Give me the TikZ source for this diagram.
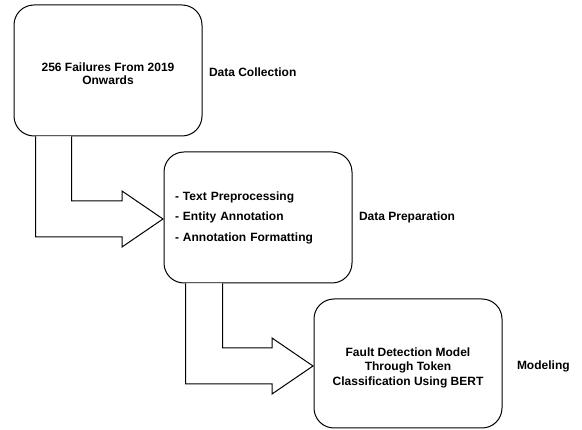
\documentclass[tikz,border=0pt]{standalone}
\usepackage{fontspec}
\setmainfont{Liberation Sans}
\usetikzlibrary{positioning,calc}

\begin{document}
\begin{tikzpicture}[x=1pt,y=-1pt,line width=1pt]
            \tikzset{
                stage/.style={
                    draw,
                    rounded corners=20pt,
                    minimum width=188pt,
                    minimum height=131pt,
                    inner sep=11pt,
                    align=center,
                    font=\bfseries\fontsize{12}{13.5}\selectfont
                },
                phase/.style={
                    inner sep=0pt,
                    font=\bfseries\fontsize{12}{14}\selectfont
                },
                bentarrow/.style={
                    draw,
                    fill=white,
                    line join=miter
                }
            }

            \useasboundingbox (0,0) rectangle (582,430);

            % Stages
            \node[stage] (collect) at (108,70.5)
                {\rule{0pt}{15pt}256 Failures From 2019\\Onwards};
            \node[stage,text width=166pt,align=left,
                font=\bfseries\fontsize{12}{20.5}\selectfont] (prep) at (258,217.5)
                {- Text Preprocessing\\- Entity Annotation\\- Annotation Formatting};
            \node[stage,minimum height=129pt,
                font=\bfseries\fontsize{12}{14.5}\selectfont] (model) at (408,363.5)
                {\rule{0pt}{17pt}Fault Detection Model\\Through Token\\Classification Using BERT};

            % Phase labels
            \node[phase,right=6pt of collect,yshift=-1.5pt] (collect_lbl) {Data Collection};
            \node[phase,right=6pt of prep] (prep_lbl) {Data Preparation};
            \node[phase,right=14pt of model,yshift=-3pt] (model_lbl) {Modeling};

            % Arrow tips
            \coordinate (tipA) at ($(prep.west)+(-0.5,1.5)$);
            \coordinate (tipB) at ($(model.west)+(-0.5,2.5)$);

            % Collection -> Preparation
            \draw[bentarrow]
                ($(collect.south west)+(22,0)$) |- ($(tipA)+(-41,18)$)
                -- ++(0,10) -- (tipA) -- ++(-41,-28) -- ++(0,10)
                -| ($(collect.south west)+(58,0)$);

            % Preparation -> Modeling
            \draw[bentarrow]
                ($(prep.south west)+(22,0)$) |- ($(tipB)+(-41,18)$)
                -- ++(0,10) -- (tipB) -- ++(-41,-28) -- ++(0,10)
                -| ($(prep.south west)+(59,0)$);
        \end{tikzpicture}
\end{document}
